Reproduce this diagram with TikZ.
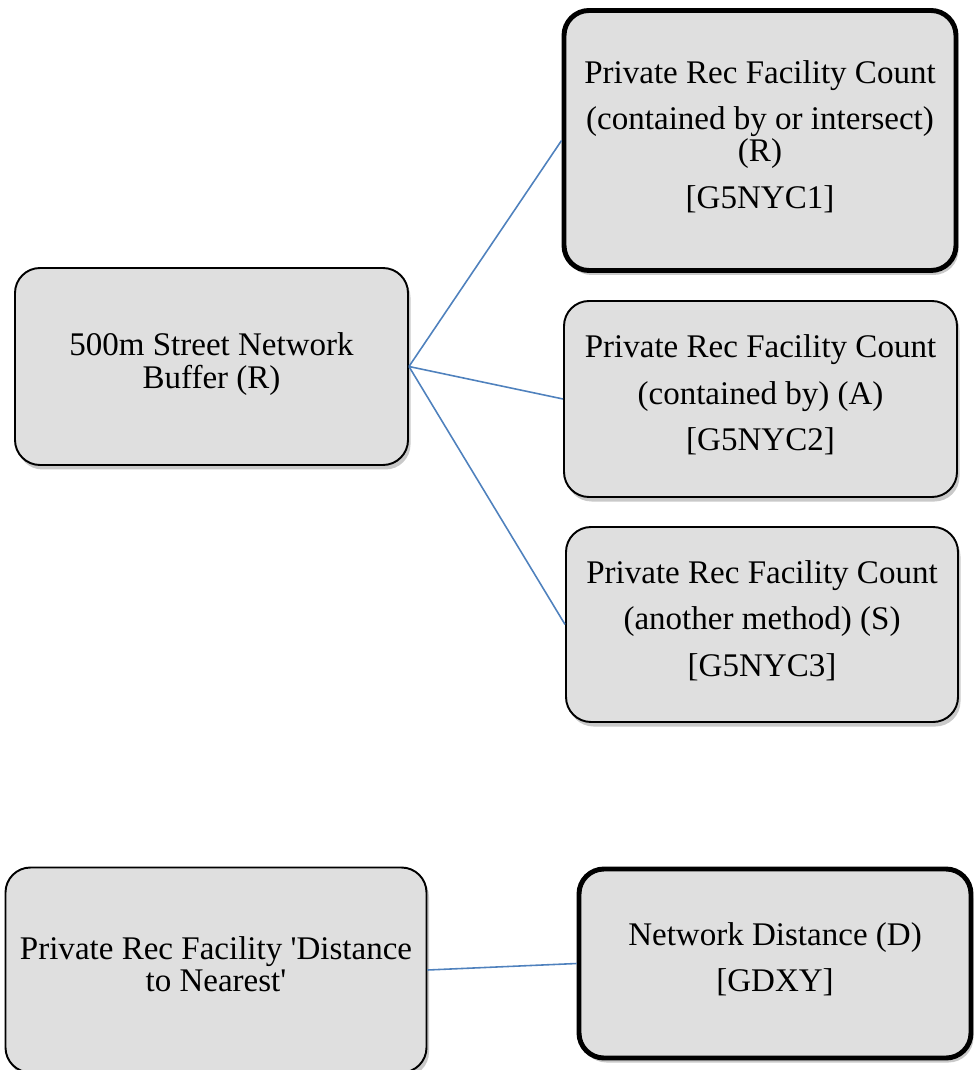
\documentclass[tikz,border=0pt]{standalone}
\usepackage{fontspec}
\setmainfont{Liberation Serif}
\usetikzlibrary{positioning, shadows}
\definecolor{linkblue}{RGB}{79,129,189}
\definecolor{boxgray}{RGB}{223,223,223}
\newcommand{\boxlines}[1]{\raisebox{0.03cm}[\height][\depth]{\begin{tabular}{@{}c@{}}#1\end{tabular}}}

\begin{document}
\begin{tikzpicture}[
        x=0.02cm, y=-0.02cm,
        measure/.style={rectangle, rounded corners=0.5cm, draw=black, line width=1.1pt, fill=boxgray,
            inner sep=0pt, font=\fontsize{18.8}{18}\selectfont,
            drop shadow={shadow xshift=0.05cm, shadow yshift=-0.09cm, opacity=0.3, fill=black!70}},
        result/.style={measure, line width=2.8pt},
        link/.style={draw=linkblue, line width=0.9pt}
    ]
        \useasboundingbox (0,0) rectangle (973,1070);

        % buffer and its counts
        \node[measure, minimum width=393*0.02cm, minimum height=197*0.02cm] (buffer) at (211.5,366.5)
            {\boxlines{500m Street Network\\Buffer (R)}};
        \node[result, minimum width=392*0.02cm, minimum height=260*0.02cm] (count1) at (760,140.5)
            {\boxlines{Private Rec Facility Count\\[8pt](contained by or intersect)\\(R)\\[8pt][G5NYC1]}};
        \node[measure, minimum width=393*0.02cm, minimum height=196*0.02cm] (count2) at (760.5,399)
            {\boxlines{Private Rec Facility Count\\[8pt](contained by) (A)\\[8pt][G5NYC2]}};
        \node[measure, minimum width=392*0.02cm, minimum height=195*0.02cm] (count3) at (762,624.5)
            {\boxlines{Private Rec Facility Count\\[8pt](another method) (S)\\[8pt][G5NYC3]}};

        % distance to nearest
        \node[measure, minimum width=421*0.02cm, minimum height=205*0.02cm] (nearest) at (216,970)
            {\boxlines{Private Rec Facility \textquotesingle Distance\\to Nearest\textquotesingle}};
        \node[result, minimum width=392*0.02cm, minimum height=189*0.02cm] (netdist) at (775,963.5)
            {\boxlines{Network Distance (D)\\[8pt][GDXY]}};

        \draw[link] (buffer.east) -- (count1.west);
        \draw[link] (buffer.east) -- (count2.west);
        \draw[link] (buffer.east) -- (count3.west);
        \draw[link] (nearest.east) -- (netdist.west);
    \end{tikzpicture}
\end{document}
